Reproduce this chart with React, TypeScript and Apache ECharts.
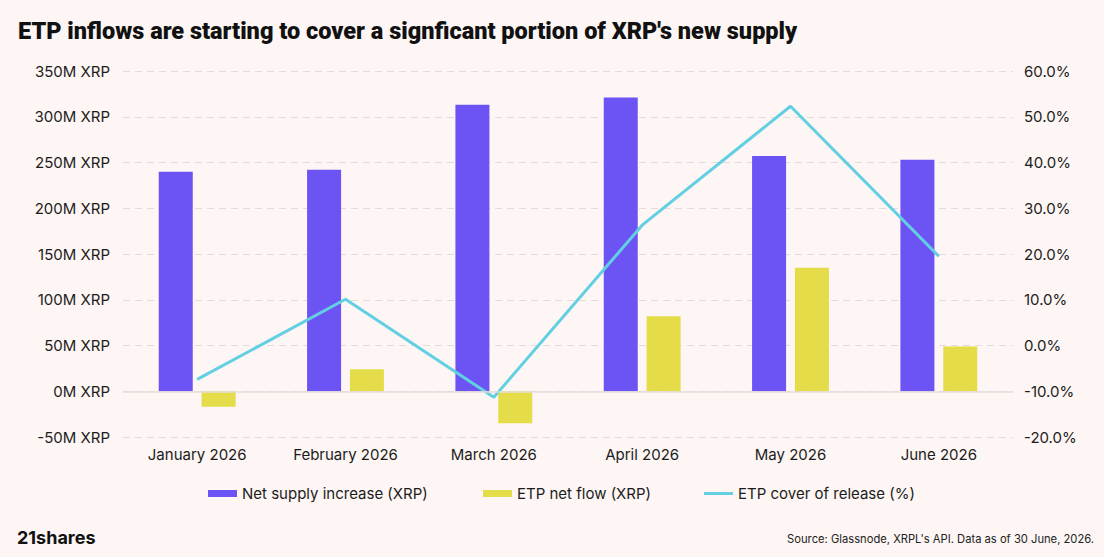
import { useEffect, useRef } from "react";
import * as echarts from "echarts";

const months = ["January 2026", "February 2026", "March 2026", "April 2026", "May 2026", "June 2026"];
const netSupply = [240, 242, 313, 321, 257, 253];
const etpNetFlow = [-17, 24, -35, 82, 135, 49];
const etpCover = [-7.4, 10.1, -11.3, 26.3, 52.3, 19.5];

const seriesNames = ["Net supply increase (XRP)", "ETP net flow (XRP)", "ETP cover of release (%)"];

const FONT = "Inter, 'Noto Sans', sans-serif";
const TEXT = "#1c1c1c";
const GRID_LINE = "#e4dcda";

export default function App() {
  const chartRef = useRef<HTMLDivElement>(null);

  useEffect(() => {
    if (!chartRef.current) return;
    const chart = echarts.init(chartRef.current, undefined, { renderer: "svg" });

    const legendText = { fontSize: 15, color: TEXT, fontFamily: FONT };

    const option: echarts.EChartsOption = {
      animation: false,
      backgroundColor: "#fdf6f4",
      textStyle: { fontFamily: FONT },
      title: {
        text: "ETP inflows are starting to cover a signficant portion of XRP's new supply",
        left: 13,
        top: 14,
        textStyle: {
          fontFamily: "Roboto, sans-serif",
          fontWeight: 900,
          fontSize: 23.5,
          color: "#111",
        },
      },
      legend: [
        {
          data: [seriesNames[0]],
          left: 203,
          top: 481,
          icon: "rect",
          itemWidth: 29,
          itemHeight: 7,
          textStyle: legendText,
        },
        {
          data: [seriesNames[1]],
          left: 478,
          top: 481,
          icon: "rect",
          itemWidth: 29,
          itemHeight: 7,
          textStyle: legendText,
        },
        {
          data: [seriesNames[2]],
          left: 699,
          top: 481,
          icon: "rect",
          itemWidth: 29,
          itemHeight: 3,
          textStyle: legendText,
        },
      ],
      grid: { left: 123, right: 91, top: 71, bottom: 120 },
      xAxis: {
        type: "category",
        data: months,
        axisLine: { show: false },
        axisTick: { show: false },
        axisLabel: { fontSize: 15, color: TEXT, margin: 10 },
      },
      yAxis: [
        {
          type: "value",
          min: -50,
          max: 350,
          interval: 50,
          axisLabel: { fontSize: 15, color: TEXT, margin: 13, formatter: (v: number) => `${v}M XRP` },
          splitLine: { lineStyle: { color: GRID_LINE, type: [7, 5], width: 1 } },
        },
        {
          type: "value",
          min: -20,
          max: 60,
          interval: 10,
          axisLabel: { fontSize: 15, color: TEXT, margin: 11, formatter: (v: number) => `${v.toFixed(1)}%` },
          splitLine: { show: false },
        },
      ],
      series: [
        {
          name: seriesNames[0],
          type: "bar",
          data: netSupply,
          barWidth: 34,
          barGap: "26%",
          itemStyle: { color: "#6b54f3" },
          markLine: {
            silent: true,
            symbol: "none",
            label: { show: false },
            lineStyle: { color: GRID_LINE, type: "solid", width: 1.5 },
            data: [{ yAxis: 0 }],
          },
        },
        {
          name: seriesNames[1],
          type: "bar",
          data: etpNetFlow,
          barWidth: 34,
          itemStyle: { color: "#e4dc48" },
        },
        {
          name: seriesNames[2],
          type: "line",
          yAxisIndex: 1,
          data: etpCover,
          symbol: "none",
          lineStyle: { color: "#62cfe2", width: 3 },
          itemStyle: { color: "#62cfe2" },
        },
      ],
      graphic: [
        {
          type: "text",
          left: 17,
          top: 528,
          style: {
            text: "21shares",
            font: "bold 18px Inter, sans-serif",
            fill: "#111",
          },
        },
        {
          type: "text",
          right: 10,
          top: 533,
          style: {
            text: "Source: Glassnode, XRPL's API. Data as of 30 June, 2026.",
            font: "11.2px Inter, sans-serif",
            fill: "#222",
          },
        },
      ],
    };

    chart.setOption(option);
    return () => chart.dispose();
  }, []);

  return (
    <div
      ref={chartRef}
      style={{ position: "fixed", left: 0, top: 0, width: "1104px", height: "557px" }}
    />
  );
}
